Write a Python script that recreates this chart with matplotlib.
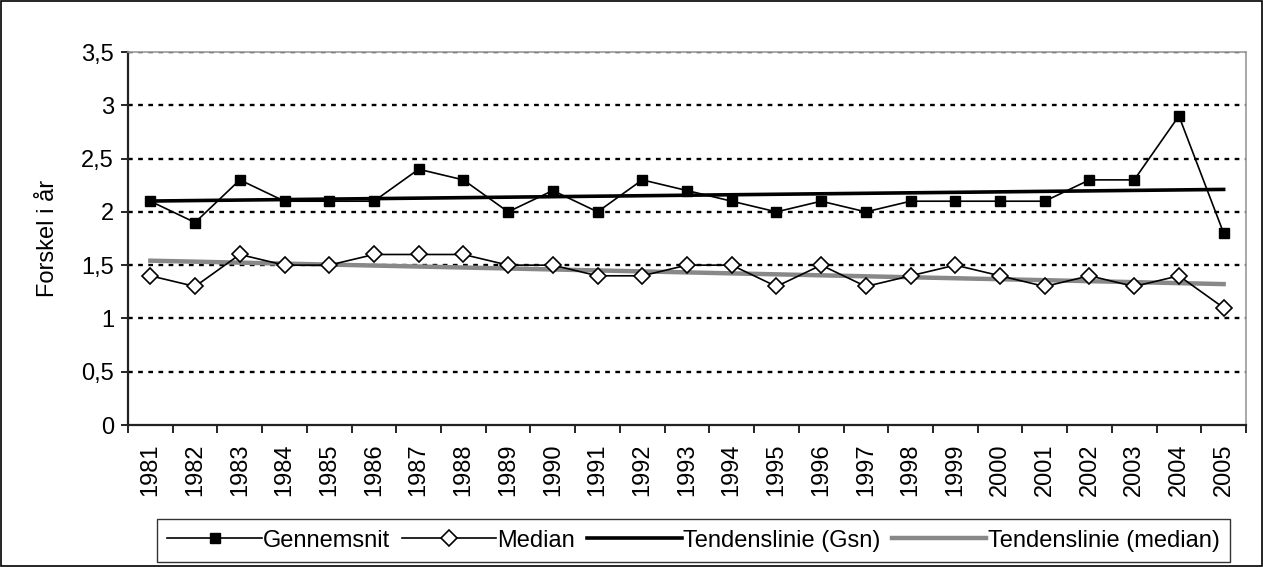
import matplotlib
matplotlib.use("Agg")
import matplotlib.pyplot as plt
import numpy as np
from matplotlib.patches import Rectangle

plt.rcParams['font.family'] = ['Liberation Sans', 'DejaVu Sans']

years = [str(y) for y in range(1981, 2006)]
gennemsnit = [2.1, 1.9, 2.3, 2.1, 2.1, 2.1, 2.4, 2.3, 2.0, 2.2, 2.0, 2.3, 2.2,
              2.1, 2.0, 2.1, 2.0, 2.1, 2.1, 2.1, 2.1, 2.3, 2.3, 2.9, 1.8]
median = [1.4, 1.3, 1.6, 1.5, 1.5, 1.6, 1.6, 1.6, 1.5, 1.5, 1.4, 1.4, 1.5,
          1.5, 1.3, 1.5, 1.3, 1.4, 1.5, 1.4, 1.3, 1.4, 1.3, 1.4, 1.1]
yticks = [0, 0.5, 1, 1.5, 2, 2.5, 3, 3.5]
ytick_labels = ["0", "0,5", "1", "1,5", "2", "2,5", "3", "3,5"]

x = np.arange(len(years))
g_fit = np.polyval(np.polyfit(x, gennemsnit, 1), x)
m_fit = np.polyval(np.polyfit(x, median, 1), x)

FS = 17

fig = plt.figure(figsize=(12.63, 5.67), dpi=100)
ax = fig.add_axes([128/1263, 1 - 425/567, (1246-128)/1263, (425-52)/567])

for yv in yticks[1:]:
    ax.axhline(yv, color='black', lw=1.7, dashes=(2, 2.3), zorder=1)

ax.plot(x, gennemsnit, color='black', lw=1.2, marker='s', markersize=7.5,
        markerfacecolor='black', markeredgecolor='black', label='Gennemsnit', zorder=4)
ax.plot(x, median, color='black', lw=1.2, marker='D', markersize=8,
        markerfacecolor='white', markeredgecolor='black', markeredgewidth=1.2,
        label='Median', zorder=4)
ax.plot(x, g_fit, color='black', lw=2.6, label='Tendenslinie (Gsn)', zorder=3)
ax.plot(x, m_fit, color='#888888', lw=3.2, label='Tendenslinie (median)', zorder=3)

ax.set_xlim(-0.5, len(years) - 0.5)
ax.set_ylim(0, 3.5)
ax.set_yticks(yticks)
ax.set_yticklabels(ytick_labels, fontsize=FS)
ax.set_xticks(x)
ax.set_xticklabels(years, rotation=90, fontsize=FS)
ax.set_xticks(np.arange(-0.5, len(years)), minor=True)
ax.tick_params(axis='x', which='major', length=0, pad=13)
ax.tick_params(axis='x', which='minor', length=6, width=1.2, direction='out', color='black')
ax.tick_params(axis='y', length=5, width=1.2, direction='out', pad=5)

for s in ['left', 'bottom']:
    ax.spines[s].set_color('#222222')
    ax.spines[s].set_linewidth(1.6)
for s in ['top', 'right']:
    ax.spines[s].set_color('#999999')
    ax.spines[s].set_linewidth(1.2)

ax.set_ylabel('Forskel i år', fontsize=FS, labelpad=16)

leg = fig.legend(loc='lower center', bbox_to_anchor=(0.549, 0.004), ncol=4,
                 fontsize=FS, frameon=True, fancybox=False, edgecolor='black',
                 handlelength=4.0, handletextpad=0.05, columnspacing=0.5,
                 borderpad=0.45, borderaxespad=0.1)
leg.get_frame().set_linewidth(1.0)

fig.patches.append(Rectangle((0.001, 0.001), 0.998, 0.997, transform=fig.transFigure,
                             fill=False, edgecolor='black', lw=1.2))

fig.savefig('out.png', dpi=100)
